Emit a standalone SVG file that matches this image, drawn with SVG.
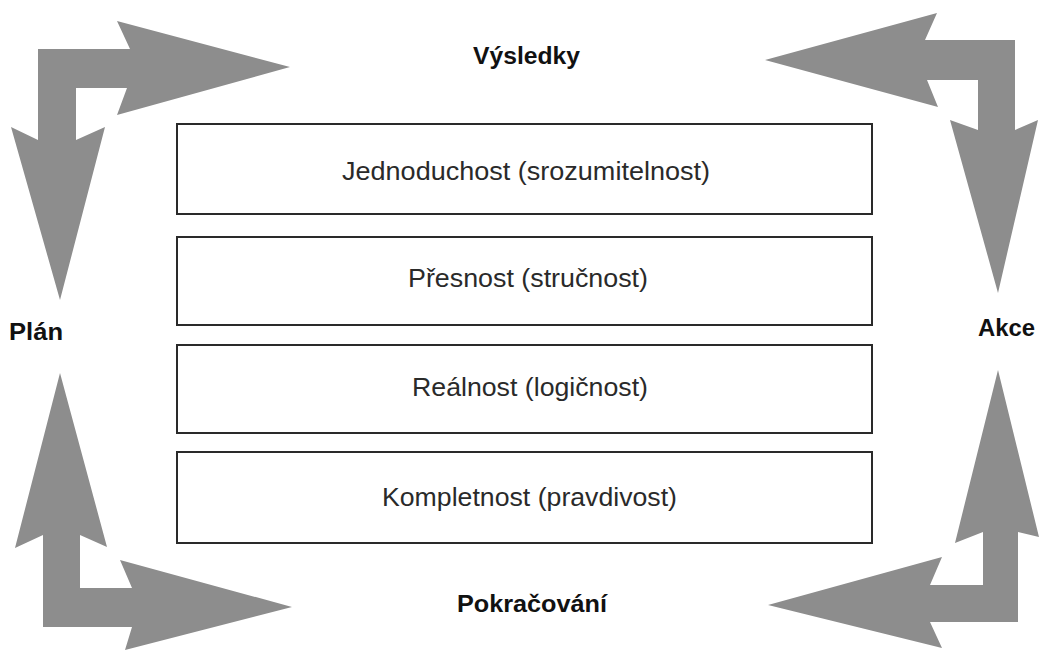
<svg xmlns="http://www.w3.org/2000/svg" width="1039" height="650" viewBox="0 0 1039 650">
<style>
.box{fill:#ffffff;stroke:#2a2a2a;stroke-width:2}
.arr{fill:#8d8d8d}
.t{font-family:"Liberation Sans",Arial,sans-serif;font-size:26px;fill:#2a2a2a;text-anchor:start}
.lb{font-family:"Liberation Sans",Arial,sans-serif;font-size:23px;font-weight:bold;fill:#111111}
</style>
<rect width="1039" height="650" fill="#ffffff"/>
<g id="connectors">
<polygon class="arr" points="290,67 117,115 127,88 76,88 76,140 105,127 60,300 11,127 38,140 38,49 130,49 117,21"/>
<polygon class="arr" points="765,60 937,13 925,40 1015,40 1015,130 1038,120 998,293 950,120 978,130 978,80 927,80 938,107"/>
<polygon class="arr" points="60,373 107,547 80,535 80,588 132,588 120,560 292,607 125,650 132,627 43,627 43,535 15,548"/>
<polygon class="arr" points="998,370 1039,537 1018,532 1018,622 930,622 942,648 768,605 942,557 930,585 983,585 983,532 955,543"/>
</g>
<g id="box1"><rect class="box" x="177" y="124" width="695" height="90"/><text class="t" x="342" y="180" textLength="368" lengthAdjust="spacingAndGlyphs">Jednoduchost (srozumitelnost)</text></g>
<g id="box2"><rect class="box" x="177" y="237" width="695" height="88"/><text class="t" x="408" y="287" textLength="240" lengthAdjust="spacingAndGlyphs">Přesnost (stručnost)</text></g>
<g id="box3"><rect class="box" x="177" y="345" width="695" height="88"/><text class="t" x="412" y="396" textLength="236" lengthAdjust="spacingAndGlyphs">Reálnost (logičnost)</text></g>
<g id="box4"><rect class="box" x="177" y="452" width="695" height="91"/><text class="t" x="382" y="506" textLength="295" lengthAdjust="spacingAndGlyphs">Kompletnost (pravdivost)</text></g>
<g id="vysledky"><text class="lb" x="473" y="64" textLength="107" lengthAdjust="spacingAndGlyphs">Výsledky</text></g>
<g id="pokracovani"><text class="lb" x="457" y="612" textLength="150" lengthAdjust="spacingAndGlyphs">Pokračování</text></g>
<g id="plan"><text class="lb" x="9" y="340" textLength="54" lengthAdjust="spacingAndGlyphs">Plán</text></g>
<g id="akce"><text class="lb" x="978" y="336" textLength="57" lengthAdjust="spacingAndGlyphs">Akce</text></g>
</svg>
